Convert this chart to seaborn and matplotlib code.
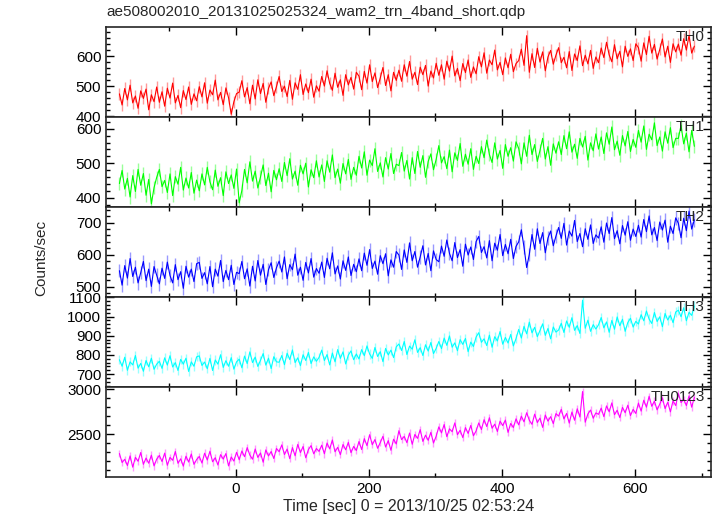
import matplotlib
matplotlib.use("Agg")
import matplotlib.pyplot as plt
from matplotlib.ticker import MultipleLocator
import seaborn as sns
import numpy as np

# light curve bins (sec), 4 s step
T_START, T_STOP, T_STEP = -175, 690, 4

th0 = [474, 437, 492, 454, 503, 444, 467, 426, 484, 459, 490, 421, 471, 448, 497,
       446, 481, 433, 493, 460, 510, 444, 469, 428, 485, 455, 497, 439, 474, 451,
       498, 464, 511, 443, 487, 471, 520, 454, 479, 438, 494, 461, 406, 448, 475,
       480, 518, 464, 495, 441, 503, 457, 521, 475, 509, 446, 492, 514, 468, 498,
       532, 482, 500, 465, 519, 456, 511, 489, 538, 472, 507, 478, 523, 463, 501,
       483, 532, 500, 551, 509, 486, 543, 496, 521, 469, 538, 504, 529, 490, 546,
       533, 488, 549, 510, 571, 515, 544, 495, 527, 562, 502, 538, 484, 546, 519,
       553, 516, 571, 533, 582, 523, 546, 505, 563, 538, 569, 500, 550, 527, 576,
       536, 571, 523, 583, 550, 600, 534, 559, 518, 575, 545, 587, 529, 564, 541,
       598, 564, 611, 543, 587, 571, 620, 554, 579, 538, 594, 561, 606, 548, 575,
       585, 623, 569, 668, 546, 608, 562, 626, 580, 614, 551, 597, 619, 573, 603,
       628, 578, 596, 561, 615, 552, 607, 585, 634, 568, 603, 574, 619, 559, 597,
       578, 627, 595, 646, 604, 581, 638, 591, 616, 564, 633, 599, 624, 585, 641,
       628, 583, 644, 605, 666, 610, 639, 590, 622, 657, 597, 633, 579, 641, 614,
       640, 603, 658, 620, 669, 610, 633]

th1 = [441, 479, 425, 456, 402, 464, 418, 482, 436, 470, 407, 453, 382, 429, 459,
       482, 432, 450, 415, 469, 406, 461, 439, 488, 422, 457, 428, 473, 413, 451,
       420, 469, 437, 488, 446, 423, 480, 433, 458, 406, 475, 441, 466, 427, 483,
       385, 421, 482, 443, 504, 448, 477, 428, 460, 495, 435, 471, 417, 479, 452,
       484, 447, 502, 464, 513, 454, 477, 436, 494, 469, 500, 431, 481, 458, 507,
       460, 495, 447, 507, 474, 524, 458, 483, 442, 499, 469, 511, 453, 488, 465,
       520, 486, 533, 465, 509, 493, 542, 476, 501, 460, 516, 483, 528, 470, 497,
       493, 531, 477, 508, 454, 516, 470, 534, 488, 522, 459, 505, 527, 481, 511,
       551, 501, 519, 484, 538, 475, 530, 508, 557, 491, 526, 497, 542, 482, 520,
       499, 548, 516, 567, 525, 502, 559, 512, 537, 485, 554, 520, 545, 506, 562,
       543, 498, 559, 520, 581, 525, 554, 505, 537, 572, 512, 548, 494, 556, 529,
       562, 525, 580, 542, 591, 532, 555, 514, 572, 547, 578, 509, 559, 536, 585,
       541, 576, 528, 588, 555, 605, 539, 564, 523, 580, 550, 592, 534, 569, 546,
       595, 561, 608, 540, 584, 568, 617, 551, 576, 535, 591, 558, 603, 545, 572,
       572, 610, 556, 587, 533, 595, 549]

th2 = [550, 505, 566, 527, 588, 532, 561, 512, 544, 579, 519, 555, 501, 563, 536,
       509, 558, 526, 577, 535, 512, 569, 522, 547, 495, 564, 530, 555, 516, 572,
       576, 526, 544, 509, 563, 500, 555, 533, 582, 516, 551, 522, 567, 507, 545,
       541, 579, 525, 556, 502, 564, 518, 582, 536, 570, 507, 553, 575, 529, 559,
       580, 546, 593, 525, 569, 553, 602, 536, 561, 520, 576, 543, 588, 530, 557,
       542, 577, 529, 589, 556, 606, 540, 565, 524, 581, 551, 593, 535, 570, 547,
       587, 550, 605, 567, 616, 557, 580, 539, 597, 572, 603, 534, 584, 561, 610,
       599, 554, 615, 576, 637, 581, 610, 561, 593, 628, 568, 604, 550, 612, 585,
       578, 627, 595, 646, 604, 581, 638, 591, 616, 564, 633, 599, 624, 585, 641,
       657, 607, 625, 590, 644, 581, 636, 614, 663, 597, 632, 603, 648, 588, 626,
       640, 678, 624, 560, 601, 663, 617, 681, 635, 669, 606, 652, 674, 628, 658,
       685, 651, 698, 630, 674, 658, 707, 641, 666, 625, 681, 648, 693, 635, 662,
       652, 687, 639, 699, 666, 716, 650, 675, 634, 691, 661, 703, 645, 680, 657,
       692, 655, 710, 672, 721, 662, 685, 644, 702, 677, 708, 639, 689, 666, 715,
       698, 653, 714, 675, 736, 680, 709]

th3 = [775, 741, 788, 720, 764, 748, 797, 731, 756, 715, 771, 738, 783, 725, 752,
       767, 730, 785, 747, 796, 737, 760, 719, 777, 752, 783, 714, 764, 741, 790,
       795, 745, 763, 728, 782, 719, 774, 752, 801, 735, 770, 741, 786, 726, 764,
       778, 733, 794, 755, 816, 760, 789, 740, 772, 807, 747, 783, 729, 791, 764,
       762, 797, 749, 809, 776, 826, 760, 785, 744, 801, 771, 813, 755, 790, 767,
       787, 825, 771, 802, 748, 810, 764, 828, 782, 816, 753, 799, 821, 775, 805,
       779, 828, 796, 847, 805, 782, 839, 792, 817, 765, 834, 800, 825, 786, 842,
       857, 823, 870, 802, 846, 830, 879, 813, 838, 797, 853, 820, 865, 807, 834,
       870, 833, 888, 850, 899, 840, 863, 822, 880, 855, 886, 817, 867, 844, 893,
       916, 866, 884, 849, 903, 840, 895, 873, 922, 856, 891, 862, 907, 847, 885,
       933, 888, 949, 910, 971, 915, 944, 895, 927, 962, 902, 938, 884, 946, 919,
       930, 965, 917, 977, 944, 994, 928, 953, 912, 1085, 939, 981, 923, 958, 935,
       957, 995, 941, 972, 918, 980, 934, 998, 952, 986, 923, 969, 991, 945, 975,
       961, 1010, 978, 1029, 987, 964, 1021, 974, 999, 947, 1016, 982, 1007, 968, 1024,
       1033, 999, 1046, 978, 1022, 1006, 1055]

th0123 = [2281, 2181, 2217, 2147, 2255, 2129, 2239, 2195, 2293, 2161, 2231, 2173, 2263, 2143, 2219,
          2260, 2192, 2286, 2150, 2238, 2206, 2304, 2172, 2222, 2140, 2252, 2186, 2276, 2160, 2214,
          2249, 2175, 2285, 2209, 2307, 2189, 2235, 2153, 2269, 2219, 2281, 2143, 2243, 2197, 2295,
          2212, 2310, 2246, 2348, 2264, 2218, 2332, 2238, 2288, 2184, 2322, 2254, 2304, 2226, 2338,
          2302, 2378, 2270, 2332, 2224, 2348, 2256, 2384, 2292, 2360, 2234, 2326, 2370, 2278, 2338,
          2305, 2375, 2279, 2399, 2333, 2433, 2301, 2351, 2269, 2383, 2323, 2407, 2291, 2361, 2315,
          2416, 2326, 2448, 2370, 2492, 2380, 2438, 2340, 2404, 2474, 2354, 2426, 2318, 2442, 2388,
          2537, 2437, 2473, 2403, 2511, 2385, 2495, 2451, 2549, 2417, 2487, 2429, 2519, 2399, 2475,
          2580, 2512, 2606, 2470, 2558, 2526, 2624, 2492, 2542, 2460, 2572, 2506, 2596, 2480, 2534,
          2624, 2550, 2660, 2584, 2682, 2564, 2610, 2528, 2644, 2594, 2656, 2518, 2618, 2572, 2670,
          2602, 2700, 2636, 2738, 2654, 2608, 2722, 2628, 2678, 2574, 2712, 2644, 2694, 2616, 2728,
          2700, 2776, 2668, 2730, 2622, 2746, 2654, 2782, 2690, 2975, 2632, 2724, 2768, 2676, 2736,
          2720, 2790, 2694, 2814, 2748, 2848, 2716, 2766, 2684, 2798, 2738, 2822, 2706, 2776, 2730,
          2846, 2756, 2878, 2800, 2922, 2810, 2868, 2770, 2834, 2904, 2784, 2856, 2748, 2872, 2818,
          2952, 2852, 2888, 2818, 2926, 2800, 2910]

# typical 1-sigma error of one bin
errs = [20, 19, 21, 24, 42]
names = ["TH0", "TH1", "TH2", "TH3", "TH0123"]

sns.set_style("ticks")
plt.rcParams['font.family'] = ['Liberation Sans', 'DejaVu Sans']

t = np.arange(T_START, T_STOP, T_STEP)
series = [th0, th1, th2, th3, th0123]
colors = ["#ff0000", "#00ff00", "#0000ff", "#00ffff", "#ff00ff"]
ylims = [(397, 697), (373, 634), (468, 749), (633, 1102), (2019, 3026)]
major = [100, 100, 100, 100, 500]
minor = [20, 20, 20, 20, 100]

fig, axes = plt.subplots(5, 1, sharex=True, figsize=(7.17, 5.16), dpi=100)
fig.subplots_adjust(left=0.148, right=0.9916, top=0.9477, bottom=0.0756, hspace=0)

for i, ax in enumerate(axes):
    y = np.array(series[i])
    ax.errorbar(t, y, yerr=errs[i], fmt='none', ecolor=colors[i], alpha=0.4, elinewidth=1.0)
    sns.lineplot(x=t, y=y, color=colors[i], linewidth=0.8, ax=ax)
    ax.set_ylim(*ylims[i])
    ax.set_xlim(-195, 714)
    ax.yaxis.set_major_locator(MultipleLocator(major[i]))
    ax.yaxis.set_minor_locator(MultipleLocator(minor[i]))
    ax.xaxis.set_major_locator(MultipleLocator(200))
    ax.xaxis.set_minor_locator(MultipleLocator(100))
    ax.tick_params(which='both', direction='in', top=True, right=True, labelsize=11, colors='black')
    ax.tick_params(which='major', length=6, width=1)
    ax.tick_params(which='minor', length=3, width=1)
    for s in ax.spines.values():
        s.set_linewidth(1.2)
    ax.set_ylabel("")
    ax.text(0.99, 0.97, names[i], transform=ax.transAxes, ha='right', va='top', fontsize=11)

axes[-1].set_xlabel("Time [sec] 0 = 2013/10/25 02:53:24", fontsize=11.5, labelpad=2)
fig.text(0.058, 0.50, "Counts/sec", rotation=90, ha='center', va='center', fontsize=11)
fig.text(0.148, 0.977, "ae508002010_20131025025324_wam2_trn_4band_short.qdp",
         ha='left', va='center', fontsize=11)

plt.savefig("out.png", dpi=100)
